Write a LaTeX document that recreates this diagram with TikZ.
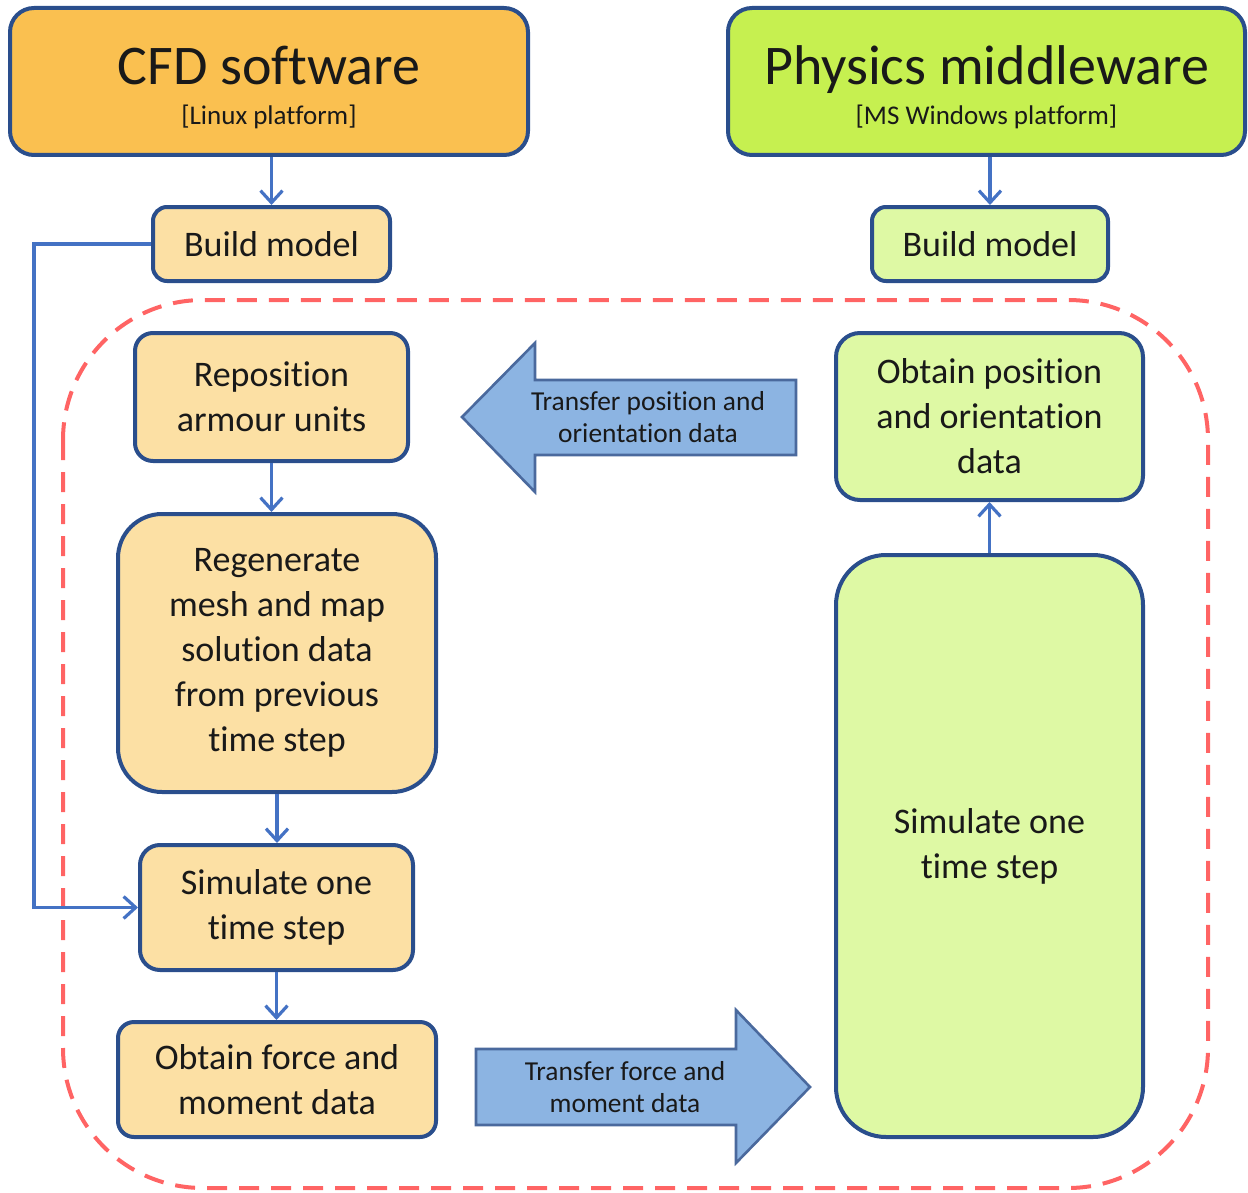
\documentclass[tikz,border=0pt]{standalone}
\usepackage{fontspec}
\setmainfont{Carlito}[RawFeature={-liga;-clig;-calt;-dlig}]
\usetikzlibrary{
  arrows.meta,
  positioning
}
\definecolor{cfdorange}{RGB}{250,192,80}
\definecolor{cfdlight}{RGB}{252,224,164}
\definecolor{physgreen}{RGB}{198,240,80}
\definecolor{physlight}{RGB}{222,249,164}
\definecolor{edgeblue}{RGB}{42,78,140}
\definecolor{linkblue}{RGB}{68,114,196}
\definecolor{xferblue}{RGB}{140,180,226}
\definecolor{loopred}{RGB}{255,100,100}
\tikzset{
  flow/.style={-{Straight Barb[length=6pt,width=11pt]},line width=1.6pt,draw=linkblue},
  box/.style={
    draw=edgeblue,
    line width=2pt,
    align=center,
    inner sep=0pt,
    text=black!90,
    font=\fontsize{18}{22.5}\selectfont
  },
  cfd box/.style={box,fill=cfdlight},
  phys box/.style={box,fill=physlight},
  cfd head/.style={box,fill=cfdorange,rounded corners=12pt,font=\fontsize{13.5}{20}\selectfont},
  phys head/.style={box,fill=physgreen,rounded corners=12pt,font=\fontsize{13.5}{20}\selectfont},
  transfer/.style={draw=edgeblue!85,fill=xferblue,line width=1.3pt,line join=miter},
  xfer text/.style={align=center,text=black!90,font=\fontsize{13.7}{16}\selectfont},
  loop frame/.style={draw=loopred,line width=2pt,dash pattern=on 10pt off 6pt,rounded corners=70pt}
}

\begin{document}
\begin{tikzpicture}[x=0.5pt,y=-0.5pt]
  \useasboundingbox (0,0) rectangle (1248,1193);

  % coupling loop
  \draw[loop frame] (63,300) rectangle (1208,1188);

  % platforms
  \node[cfd head,minimum width=259pt,minimum height=73.5pt] (cfd) at (269,81.5)
    {\rule{0pt}{25pt}{\fontsize{28}{20}\selectfont CFD software}\\{[Linux platform]}};
  \node[phys head,minimum width=258.5pt,minimum height=73.5pt] (phys) at (986.5,81.5)
    {\rule{0pt}{25pt}{\fontsize{28}{20}\selectfont Physics middleware}\\{[MS Windows platform]}};

  \node[cfd box,rounded corners=7pt,minimum width=118.5pt,minimum height=37pt] (cfdbuild) at (271.5,244) {Build model};
  \node[phys box,rounded corners=7pt,minimum width=118pt,minimum height=37pt] (physbuild) at (990,244) {Build model};

  % CFD side
  \node[cfd box,rounded corners=9pt,minimum width=136.5pt,minimum height=64pt] (reposition) at (271.5,397)
    {Reposition\\armour units};
  \node[cfd box,rounded corners=22pt,minimum width=159pt,minimum height=139pt] (regen) at (277,653)
    {Regenerate\\mesh and map\\solution data\\from previous\\time step};
  \node[cfd box,rounded corners=10pt,minimum width=136.5pt,minimum height=62.5pt] (cfdsim) at (276.5,907.5)
    {Simulate one\\time step};
  \node[cfd box,rounded corners=8pt,minimum width=159pt,minimum height=57.5pt] (forces) at (277,1079.5)
    {Obtain force and\\moment data};

  % middleware side
  \node[phys box,rounded corners=12pt,minimum width=153.5pt,minimum height=83.5pt] (pose) at (989.5,416.5)
    {Obtain position\\and orientation\\data};
  \node[phys box,rounded corners=25pt,minimum width=153.5pt,minimum height=291pt] (physsim) at (989.5,846)
    {Simulate one\\time step};

  % data exchange
  \draw[transfer] (796,380) -- (535,380) -- (535,343) -- (462,417) -- (535,492) -- (535,455) -- (796,455) -- cycle;
  \node[xfer text] (posxfer) at (648,417) {Transfer position and\\orientation data};
  \draw[transfer] (476,1049) -- (736,1049) -- (736,1010) -- (810,1087) -- (736,1163) -- (736,1125) -- (476,1125) -- cycle;
  \node[xfer text] (forcexfer) at (625,1087) {Transfer force and\\moment data};

  % connectors
  \draw[flow] (cfdbuild.north |- cfd.south) -- (cfdbuild.north);
  \draw[flow] (physbuild.north |- phys.south) -- (physbuild.north);
  \draw[flow] (reposition.south) -- (reposition.south |- regen.north);
  \draw[flow] (regen.south) -- (regen.south |- cfdsim.north);
  \draw[flow] (cfdsim.south) -- (cfdsim.south |- forces.north);
  \draw[flow] (physsim.north) -- (pose.south);
  \draw[flow] (cfdbuild.west) -- ++(-117,0) |- (cfdsim.west);
\end{tikzpicture}
\end{document}
